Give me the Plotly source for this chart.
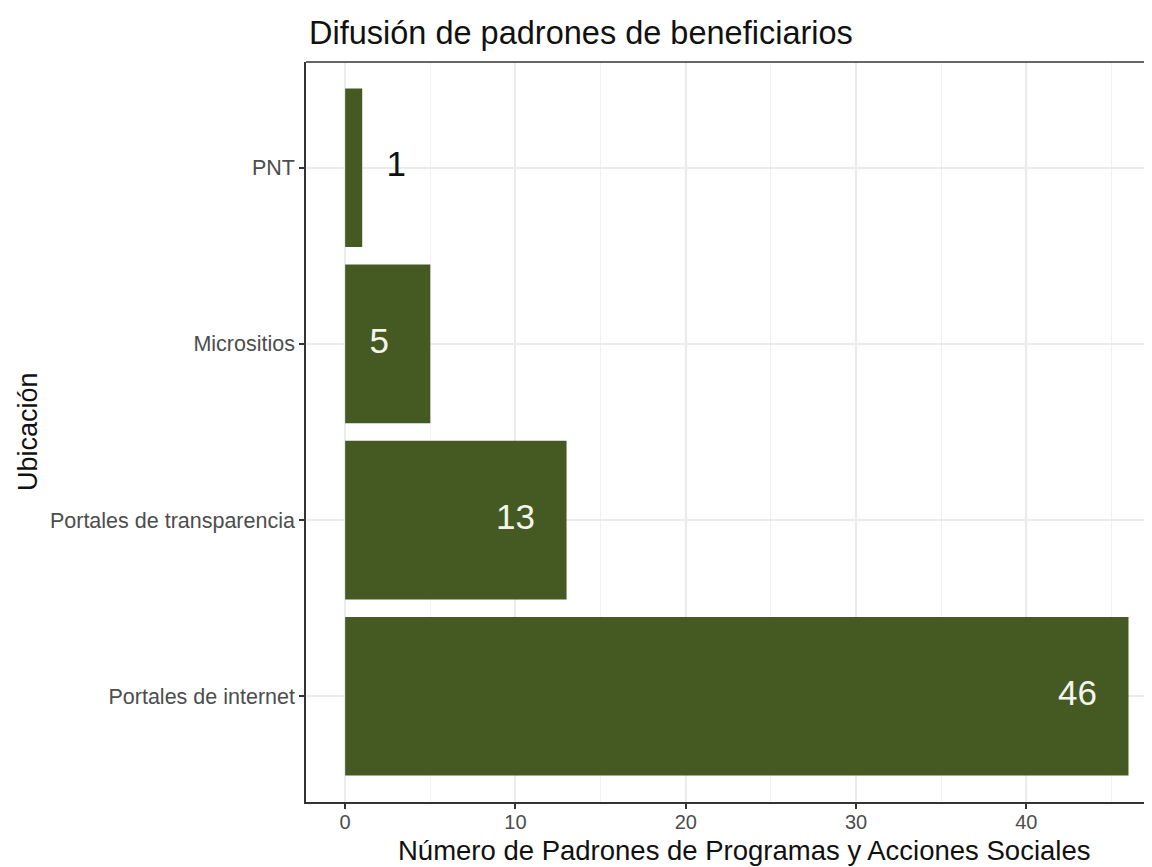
import plotly.graph_objects as go

# Data
categories = ["Portales de internet", "Portales de transparencia", "Micrositios", "PNT"]
values = [46, 13, 5, 1]
x_ticks = [0, 10, 20, 30, 40]

BAR_COLOR = "#445A22"
FONT = "Liberation Sans, Arial, sans-serif"

label_x = [v - 3 if v > 3 else v + 2 for v in values]
label_colors = ["#F4F4EC" if v > 3 else "#111111" for v in values]

fig = go.Figure()
fig.add_trace(go.Bar(
    x=values, y=categories, orientation="h",
    marker=dict(color=BAR_COLOR, line=dict(width=0)),
    width=0.9, showlegend=False, hoverinfo="x+y",
))
fig.add_trace(go.Scatter(
    x=label_x, y=categories, mode="text",
    text=[str(v) for v in values],
    textposition="middle center",
    textfont=dict(family=FONT, size=35, color=label_colors),
    showlegend=False, hoverinfo="skip",
))

# page has an 8px body margin, so the figure is 8px smaller than the window
fig.update_layout(
    width=1144, height=859,
    margin=dict(l=298, r=0, t=54, b=65),
    paper_bgcolor="white", plot_bgcolor="white",
    font=dict(family=FONT, color="#4D4D4D"),
    bargap=0.1,
)
fig.add_annotation(text="Difusión de padrones de beneficiarios", xref="paper", yref="paper",
                   x=0, y=1, xanchor="left", yanchor="middle", yshift=29, xshift=1,
                   showarrow=False, font=dict(family=FONT, size=32.5, color="#111111"))
fig.add_annotation(text="Número de Padrones de Programas y Acciones Sociales", xref="paper", yref="paper",
                   x=(744 - 306) / 846, y=0, xanchor="center", yanchor="middle", yshift=-48,
                   showarrow=False, font=dict(family=FONT, size=27.5, color="#111111"))
fig.add_annotation(text="Ubicación", xref="paper", yref="paper",
                   x=0, y=0.5, xanchor="center", yanchor="middle", xshift=28 - 306, textangle=-90,
                   showarrow=False, font=dict(family=FONT, size=27, color="#111111"))

fig.update_xaxes(
    range=[-2.3, 47.38], tickmode="array", tickvals=x_ticks, ticktext=[str(t) for t in x_ticks],
    showgrid=True, gridcolor="#EBEBEB", gridwidth=1.5,
    minor=dict(dtick=5, tick0=0, showgrid=True, gridcolor="#F2F2F2", gridwidth=1),
    zeroline=False, showline=True, linecolor="#333333", linewidth=1.5,
    ticks="outside", ticklen=5, tickwidth=1.5, tickcolor="#333333",
    ticklabelstandoff=-4,
    tickfont=dict(family=FONT, size=20, color="#4D4D4D"),
)
fig.update_yaxes(
    type="category", categoryorder="array", categoryarray=categories,
    range=[-0.6, 3.6],
    showgrid=True, gridcolor="#EBEBEB", gridwidth=1.5,
    zeroline=False, showline=True, linecolor="#333333", linewidth=1.5,
    ticks="outside", ticklen=5, tickwidth=1.5, tickcolor="#333333",
    tickfont=dict(family=FONT, size=21.5, color="#4D4D4D"),
)
fig.add_shape(type="line", xref="paper", yref="paper", x0=0, x1=1, y0=1, y1=1,
              line=dict(color="#333333", width=1.5))

fig.write_html("out.html")
